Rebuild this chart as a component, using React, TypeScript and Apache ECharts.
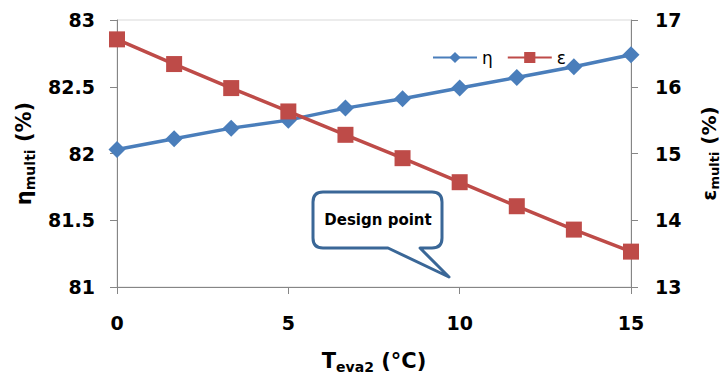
import React, { useEffect, useRef } from "react";
import * as echarts from "echarts";

const xValues = [0, 1.667, 3.333, 5, 6.667, 8.333, 10, 11.667, 13.333, 15];
const etaValues = [82.03, 82.11, 82.19, 82.25, 82.34, 82.41, 82.49, 82.57, 82.65, 82.74];
const epsValues = [16.71, 16.34, 15.98, 15.63, 15.28, 14.93, 14.57, 14.21, 13.86, 13.53];
const seriesNames = ["η", "ε"];
const calloutText = "Design point";

const FONT = "'DejaVu Sans', sans-serif";

const calloutPath =
  "M10,0 H119 Q129,0 129,10 V46 Q129,56 119,56 H107 L136,85 L75,56 H10 Q0,56 0,46 V10 Q0,0 10,0 Z";
echarts.graphic.registerShape("callout", echarts.graphic.extendPath(calloutPath, {}) as any);

export default function App() {
  const ref = useRef<HTMLDivElement>(null);
  useEffect(() => {
    if (!ref.current) return;
    const chart = echarts.init(ref.current, undefined, { renderer: "svg" });
    const axisLine = { show: true, lineStyle: { color: "#868686", width: 1 } };
    const axisTick = { show: true, length: 7, lineStyle: { color: "#868686" } };
    const labelStyle = { fontFamily: FONT, fontWeight: "bold" as const, fontSize: 19, color: "#000" };
    const rich = {
      m: { fontFamily: FONT, fontWeight: "bold" as const, fontSize: 21, color: "#000" },
      s: { fontFamily: FONT, fontWeight: "bold" as const, fontSize: 14, color: "#000", padding: [12, 0, 0, 0] },
    };
    const richRight = {
      m: { fontFamily: FONT, fontWeight: "bold" as const, fontSize: 20, color: "#000" },
      s: { fontFamily: FONT, fontWeight: "bold" as const, fontSize: 13, color: "#000", padding: [11, 0, 0, 0] },
    };
    chart.setOption({
      animation: false,
      backgroundColor: "#fff",
      grid: {
        left: 117,
        right: 93,
        top: 20,
        bottom: 94,
        containLabel: false,
        outerBoundsMode: "none",
        show: true,
        borderColor: "#d9d9d9",
        borderWidth: 1,
        backgroundColor: "transparent",
      },
      legend: {
        data: seriesNames,
        left: 427,
        top: 44,
        itemWidth: 44,
        itemHeight: 14,
        itemGap: 14,
        textStyle: { fontFamily: FONT, fontSize: 17, color: "#000" },
      },
      xAxis: {
        type: "value",
        min: 0,
        max: 15,
        interval: 5,
        axisLine,
        axisTick,
        splitLine: { show: false },
        axisLabel: { ...labelStyle, margin: 26 },
        name: "{m|T}{s|eva2}{m| (°C)}",
        nameLocation: "middle",
        nameGap: 61,
        nameTextStyle: { rich },
      },
      yAxis: [
        {
          type: "value",
          min: 81,
          max: 83,
          interval: 0.5,
          axisLine,
          axisTick,
          splitLine: { show: false },
          axisLabel: { ...labelStyle, margin: 22 },
          name: "{m|η}{s|multi}{m| (%)}",
          nameLocation: "middle",
          nameRotate: 90,
          nameGap: 80,
          nameTextStyle: { rich },
        },
        {
          type: "value",
          min: 13,
          max: 17,
          interval: 1,
          position: "right",
          axisLine,
          axisTick,
          splitLine: { show: false },
          axisLabel: { ...labelStyle, margin: 24 },
          name: "{m|ε}{s|multi}{m| (%)}",
          nameLocation: "middle",
          nameRotate: 90,
          nameGap: 66,
          nameTextStyle: { rich: richRight },
        },
      ],
      series: [
        {
          name: seriesNames[0],
          type: "line",
          yAxisIndex: 0,
          data: xValues.map((x, i) => [x, etaValues[i]]),
          symbol: "diamond",
          symbolSize: 17,
          lineStyle: { color: "#4a7ebb", width: 3.5 },
          itemStyle: { color: "#4a7ebb" },
          z: 3,
        },
        {
          name: seriesNames[1],
          type: "line",
          yAxisIndex: 1,
          data: xValues.map((x, i) => [x, epsValues[i]]),
          symbol: "rect",
          symbolSize: 16,
          lineStyle: { color: "#be4b48", width: 3.5 },
          itemStyle: { color: "#be4b48" },
          z: 4,
        },
      ],
      graphic: [
        {
          type: "callout",
          x: 313,
          y: 192,
          z: 10,
          style: { fill: "#fff", stroke: "#3a6797", lineWidth: 3, lineJoin: "round" },
        },
        {
          type: "text",
          x: 378,
          y: 220,
          z: 11,
          style: {
            text: calloutText,
            font: `bold 15px ${FONT}`,
            fill: "#000",
            align: "center",
            verticalAlign: "middle",
            textAlign: "center",
            textVerticalAlign: "middle",
          },
        },
      ],
    });
    return () => chart.dispose();
  }, []);
  return (
    <div
      ref={ref}
      style={{ position: "fixed", left: 0, top: 0, width: 724, height: 381 }}
    />
  );
}
